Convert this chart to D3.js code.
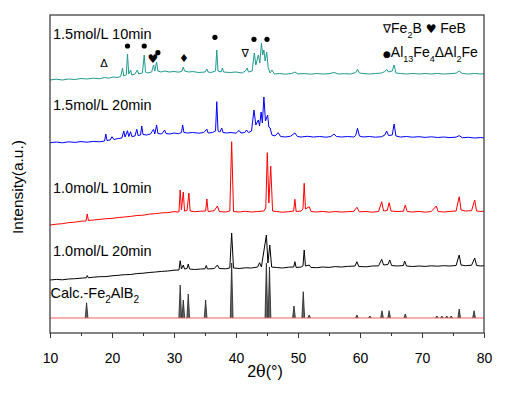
<!DOCTYPE html>
<html>
<head>
<meta charset="utf-8">
<script src="https://cdn.jsdelivr.net/npm/d3@7"></script>
<style>
body { margin: 0; background: #fff; }
text { font-family: "Liberation Sans", Arial, sans-serif; fill: #000; }
</style>
</head>
<body>
<div class="chart"></div>
<script>
// 2theta (deg) vs intensity (a.u.), patterns already stacked
var teal15_10 = [[10,253],[11,253.8],[12,253],[13,254],[14,253.5],[15,254.5],[16,254],[17,254.8],[18,254.3],[18.8,255.5],[19.5,254.8],[20.2,256],[20.8,255.5],[21.4,256.5],[21.7,265],[21.9,257],[22.3,258],[22.5,279],[22.7,259],[23.0,263],[23.2,258],[23.7,259],[24.1,263],[24.3,259],[24.9,260],[25.2,278],[25.4,261],[25.8,260],[26.4,261],[26.7,268],[26.9,262],[27.2,271],[27.4,262],[27.9,261],[28.5,262],[29.2,261],[30,261.5],[30.8,260.8],[31.3,262],[31.5,266],[31.7,262],[32.4,261],[33,261.5],[34,260.5],[35,261],[35.3,264],[35.5,261],[36,260.5],[36.7,262],[36.9,283],[37.1,262],[37.6,261],[37.8,265],[38,261],[39,260.5],[40,261],[41,260],[41.5,262],[41.8,265],[42,261],[42.6,262],[42.96,280],[43.2,268],[43.6,278],[43.85,270],[44.1,290],[44.3,278],[44.5,283],[44.7,272],[44.95,281],[45.2,265],[45.5,260],[45.8,263],[46.2,259],[47,259.5],[48,258.8],[49,259.5],[49.5,261],[50,259],[51,259.5],[52,258.8],[53,259.5],[54,259],[55,259.3],[55.8,260.5],[56.5,259],[57.5,259.3],[58.5,259],[59.3,260.5],[59.6,263.7],[59.9,260],[60.5,259.5],[61.5,259],[62.5,259.5],[63.5,260],[64.0,261.5],[64.3,263.7],[64.6,261],[65.2,262],[65.5,268],[65.8,260],[66.5,259.5],[67.5,259],[68.5,259.5],[69.5,259],[70.5,259.5],[71.5,259],[72.5,259.5],[73.5,259],[74.5,259.3],[75.5,259.8],[76.0,262],[76.5,259.5],[77.5,259],[78.5,259.5],[79.5,259],[80,259.3]];

var blue15_20 = [[10,190.3],[11,191],[12,190.2],[13,191.2],[14,190.6],[15,191.4],[16,190.8],[17,191.6],[18,191.2],[18.8,192],[19.0,199],[19.2,192.5],[19.7,193],[20.0,196.3],[20.3,193.5],[21.0,194.5],[21.6,195],[21.9,202],[22.1,196],[22.5,202.3],[22.7,196.5],[23.0,201.3],[23.2,196.5],[23.7,197],[24.0,203.7],[24.2,197.5],[24.6,198],[24.8,207],[25.0,198.5],[25.6,198],[26.2,199],[26.7,203.7],[26.9,199],[27.2,208],[27.4,199.5],[28.0,199],[28.5,203],[28.7,199.5],[29.3,199],[30,200],[30.7,199.3],[31.2,200.5],[31.4,208],[31.6,200.5],[32.2,200],[33,200.5],[34,199.8],[34.8,200.5],[35.3,204],[35.5,200],[36.2,200.5],[36.7,202],[36.9,231.3],[37.1,202],[37.4,201],[37.7,205],[37.9,200.5],[38.5,200],[39.2,200.5],[40,199.8],[40.5,202.5],[40.8,200],[41.4,200.5],[41.7,203],[42.0,200.5],[42.5,202],[42.9,223],[43.2,208],[43.6,213],[43.8,207],[44.05,221],[44.25,210],[44.5,236],[44.75,212],[45.1,218],[45.3,206],[45.5,205],[45.8,198],[46.3,197],[46.8,200.3],[47.2,196.5],[48,196],[48.8,196.8],[49.5,200],[49.9,196.5],[50.5,196],[51.5,196.7],[52.5,196],[53.5,196.5],[54.5,195.8],[55.3,196.5],[55.8,199],[56.2,196.5],[57,196],[58,196.5],[59,196],[59.3,197.5],[59.6,204.7],[59.9,197],[60.5,196],[61.5,196.5],[62.5,195.8],[63.5,196.3],[64.0,198],[64.3,202],[64.6,197.5],[65.2,198],[65.5,209],[65.8,197],[66.5,196],[67.5,196.5],[68.5,195.8],[69.5,196.3],[70.5,195.6],[71.5,196.2],[72.5,195.5],[73.5,196],[74.5,195.4],[75.5,195.9],[76.0,197.3],[76.5,195.3],[77.5,195.7],[78.5,195],[79.5,195.5],[80,195]];

var red10_10 = [[10,108],[11,108.8],[12,109.3],[13,110.4],[14,110.8],[15,111.8],[15.8,112],[16.0,119],[16.2,112.5],[17,113],[18,113.6],[19,114.3],[20,114.6],[21,115.5],[22,116],[23,116.6],[24,117.5],[25,117.8],[26,118.9],[27,119.3],[28,120.1],[29,120.4],[30,121.3],[30.8,121],[31.0,143],[31.2,123],[31.5,141],[31.7,122],[32.1,122.5],[32.4,140],[32.6,122],[33.3,121.3],[34.3,121.8],[35.1,122],[35.3,134],[35.5,121.5],[36.5,122.3],[37.0,127],[37.3,121.5],[38.3,121],[39.0,122],[39.3,191.3],[39.6,121.5],[40.5,121],[41.5,121.7],[42.5,121],[43.5,121.5],[44.5,122],[44.8,125],[45.05,180.3],[45.3,130],[45.6,167],[45.9,122],[46.5,121.5],[47.5,120.8],[48.5,121.3],[49.3,122],[49.5,133.7],[49.7,121.5],[50.5,122],[50.8,124],[51.0,149.7],[51.2,124],[51.8,126.3],[52.1,121.5],[53,121],[54,121.6],[55,120.8],[56,121.5],[57,121],[58,121.3],[59,121.6],[59.5,125.7],[59.9,121.2],[61,121.5],[62,120.8],[63,121.5],[63.5,131.3],[63.8,122],[64.4,122.5],[64.7,130.3],[65.0,122],[66,121.5],[67,121.8],[67.3,128],[67.6,121.5],[68.5,121],[69.5,121.6],[70.5,120.8],[71.5,121.5],[72.3,127],[72.6,121.5],[73.5,121],[74.5,121.6],[75.5,122],[76.0,136.3],[76.3,123],[77,122],[78,122.3],[78.5,133],[78.8,122],[79.5,121.5],[80,121.8]];

var black10_20 = [[10,53],[11,53.6],[12,53.2],[13,54],[14,54.3],[15,54.8],[15.9,55.3],[16.0,57.5],[16.2,55.2],[17,55.8],[18,56.3],[19,56.4],[20,57.2],[21,57.7],[22,58.3],[23,58.5],[24,59.4],[25,59.8],[26,60.5],[27,61],[28,61.6],[29,62],[30,62.8],[30.8,63],[31.0,72.3],[31.2,64],[31.5,68],[31.7,64],[32.1,64.5],[32.3,69],[32.5,64],[33.3,63.5],[34.3,64],[35.0,64.2],[35.2,67.5],[35.4,64],[36.5,64.5],[37.0,68],[37.3,64.5],[38.3,64.2],[39.0,65],[39.3,100],[39.6,65],[40.5,64.5],[41.5,65.2],[42.5,65],[43.5,66],[43.8,70.3],[44.1,66],[44.9,98],[45.15,70],[45.45,88],[45.75,66],[46.5,65.5],[47.5,65],[48.5,65.8],[49.3,66],[49.5,71.3],[49.7,65.5],[50.5,66],[50.8,67],[51.0,83],[51.2,67],[51.8,68],[52.1,65.5],[53,65.3],[54,66],[55,65.6],[56,66.4],[57,66],[58,66.6],[59.2,67],[59.5,71.3],[59.8,66.5],[61,66.2],[62,67],[63,67.2],[63.5,73.7],[63.8,68],[64.5,68.5],[64.8,73],[65.1,67.5],[66,67],[67.0,67.5],[67.2,72],[67.5,67],[68.5,66.5],[69.5,67],[70.5,66.6],[71.5,67.2],[72.5,66.8],[73.5,67.3],[74.5,67],[75.5,67.5],[76.0,78],[76.3,68],[77,67.3],[78,67.8],[78.5,75],[78.8,67.5],[79.5,67],[80,67.3]];

// calculated Fe2AlB2 pattern: [2theta, peak top], base level calcBase
var calcBase = 15;
var calcPeaks = [[15.9,30.3],[31.0,48],[31.5,33],[32.3,39],[35.1,33],[39.3,70],[44.9,70],[45.4,66],[49.35,27],[50.85,41.3],[51.8,18],[59.5,18],[61.6,17],[63.55,22.3],[64.7,22.3],[67.3,19],[72.4,17],[73.2,17],[74.0,17],[74.7,17],[76.0,24],[78.4,22.3]];

// phase marks above the 1.5mol/L 10min pattern: [2theta, level, phase]
var phaseMarks = [[18.7,270,"Al2Fe"],[22.5,287,"Al13Fe4"],[25.2,287,"Al13Fe4"],[26.6,274.7,"FeB"],[27.4,280.3,"Al13Fe4"],[31.6,274.7,"other"],[36.6,295.7,"Al13Fe4"],[41.5,279.7,"Fe2B"],[42.9,293.7,"Al13Fe4"],[45.0,293.7,"Al13Fe4"]];

var sampleNames = ["1.5mol/L 10min","1.5mol/L 20min","1.0mol/L 10min","1.0mol/L 20min"];
var xTicks = [10,20,30,40,50,60,70,80];
var xMinor = [15,25,35,45,55,65,75];

var margin = {top: 15, right: 23, bottom: 60, left: 50},
    width = 507 - margin.left - margin.right,
    height = 393 - margin.top - margin.bottom;

var font = '"Liberation Sans", Arial, sans-serif';

var svg = d3.select(".chart")
	.append("svg")
	.attr("width", width + margin.left + margin.right)
	.attr("height", height + margin.top + margin.bottom)
	.append("g")
	.attr("transform", "translate(" + margin.left + "," + margin.top + ")");

var x = d3.scaleLinear().domain([10, 80]).range([0, width]);
var y = d3.scaleLinear().domain([0, 318]).range([height, 0]);

svg.append("defs").append("clipPath").attr("id", "plotclip")
	.append("rect").attr("width", width).attr("height", height);

var line = d3.line()
	.x(function(d) { return x(d[0]); })
	.y(function(d) { return y(d[1]); });

var plot = svg.append("g").attr("clip-path", "url(#plotclip)");

// calc sticks
plot.append("g")
	.selectAll("path")
	.data(calcPeaks)
	.enter()
	.append("path")
	.attr("fill", "#666")
	.attr("stroke", "#222")
	.attr("stroke-width", 0.8)
	.attr("d", function(d) {
		return line([[d[0] - 0.22, calcBase], [d[0], d[1]], [d[0] + 0.22, calcBase]]);
	});

plot.append("path")
	.datum([[10, calcBase], [80, calcBase]])
	.attr("fill", "none")
	.attr("stroke", "#f26060")
	.attr("stroke-width", 1.2)
	.attr("d", line);

var series = [
	{data: black10_20, color: "#000000"},
	{data: red10_10, color: "#ff0000"},
	{data: blue15_20, color: "#0000ff"},
	{data: teal15_10, color: "#1f9a8e"}
];

series.forEach(function(s) {
	plot.append("path")
		.datum(s.data)
		.attr("fill", "none")
		.attr("stroke", s.color)
		.attr("stroke-width", 1)
		.attr("stroke-linejoin", "round")
		.attr("d", line);
});

// frame
svg.append("rect")
	.attr("width", width)
	.attr("height", height)
	.attr("fill", "none")
	.attr("stroke", "#333")
	.attr("stroke-width", 1.2);

// x axis
var xAxis = svg.append("g")
	.attr("transform", "translate(0," + height + ")")
	.call(d3.axisBottom(x).tickValues(xTicks).tickSize(5).tickPadding(15));
xAxis.select(".domain").remove();
xAxis.selectAll("line").attr("stroke", "#333");
xAxis.selectAll("text").style("font-family", font).style("font-size", "14px");

var xAxisMinor = svg.append("g")
	.attr("transform", "translate(0," + height + ")")
	.call(d3.axisBottom(x).tickValues(xMinor).tickSize(3).tickFormat(""));
xAxisMinor.select(".domain").remove();
xAxisMinor.selectAll("line").attr("stroke", "#333");

// axis titles
var xt = svg.append("text")
	.attr("x", 215)
	.attr("y", height + 44)
	.attr("text-anchor", "middle")
	.style("font-size", "16px");
xt.append("tspan").text("2");
xt.append("tspan").style("font-family", "DejaVu Serif").text("θ");
xt.append("tspan").text("(°)");

svg.append("text")
	.attr("transform", "rotate(-90)")
	.attr("x", -172)
	.attr("y", -27)
	.attr("text-anchor", "middle")
	.style("font-size", "15.5px")
	.text("Intensity(a.u.)");

// sample labels
var labelLevels = [294.5, 223, 140.5, 77];
sampleNames.forEach(function(n, i) {
	svg.append("text")
		.attr("x", 3)
		.attr("y", y(labelLevels[i]))
		.style("font-size", "14.5px")
		.text(n);
});

var calcLabel = svg.append("text")
	.attr("x", 0.5)
	.attr("y", y(35))
	.style("font-size", "14.5px");
calcLabel.append("tspan").text("Calc.-Fe");
calcLabel.append("tspan").attr("dy", 5).style("font-size", "10px").text("2");
calcLabel.append("tspan").attr("dy", -5).text("AlB");
calcLabel.append("tspan").attr("dy", 5).style("font-size", "10px").text("2");

// phase marks
var glyph = {"Al2Fe": "\u0394", "FeB": "\u2665", "other": "\u2666", "Fe2B": "\u2207"};
svg.selectAll(".dotmark")
	.data(phaseMarks.filter(function(d) { return d[2] == "Al13Fe4"; }))
	.enter()
	.append("circle")
	.attr("class", "dotmark")
	.attr("cx", function(d) { return x(d[0]); })
	.attr("cy", function(d) { return y(d[1]); })
	.attr("r", 2.6)
	.attr("fill", "#000");

svg.selectAll(".glyphmark")
	.data(phaseMarks.filter(function(d) { return d[2] != "Al13Fe4"; }))
	.enter()
	.append("text")
	.attr("class", "glyphmark")
	.attr("x", function(d) { return x(d[0]); })
	.attr("y", function(d) { return y(d[1]); })
	.attr("dy", "0.35em")
	.attr("text-anchor", "middle")
	.style("font-family", "DejaVu Sans")
	.style("font-size", function(d) { return d[2] == "FeB" ? "12px" : "11px"; })
	.text(function(d) { return glyph[d[2]]; });

// legend
var lg1 = svg.append("text").attr("x", 333).attr("y", 18).style("font-size", "14px");
lg1.append("tspan").style("font-family", "DejaVu Sans").style("font-size", "12px").text("\u2207");
lg1.append("tspan").text("Fe");
lg1.append("tspan").attr("dy", 5).style("font-size", "9px").text("2");
lg1.append("tspan").attr("dy", -5).text("B ");
lg1.append("tspan").style("font-family", "DejaVu Sans").style("font-size", "12px").text("\u2665");
lg1.append("tspan").text(" FeB");

var lg2 = svg.append("text").attr("x", 333).attr("y", 41.5).style("font-size", "14px");
lg2.append("tspan").style("font-family", "DejaVu Sans").style("font-size", "9px").text("\u25CF");
lg2.append("tspan").text("Al");
lg2.append("tspan").attr("dy", 5).style("font-size", "9px").text("13");
lg2.append("tspan").attr("dy", -5).text("Fe");
lg2.append("tspan").attr("dy", 5).style("font-size", "9px").text("4");
lg2.append("tspan").attr("dy", -5).text("\u0394Al");
lg2.append("tspan").attr("dy", 5).style("font-size", "9px").text("2");
lg2.append("tspan").attr("dy", -5).text("Fe");
</script>
</body>
</html>
